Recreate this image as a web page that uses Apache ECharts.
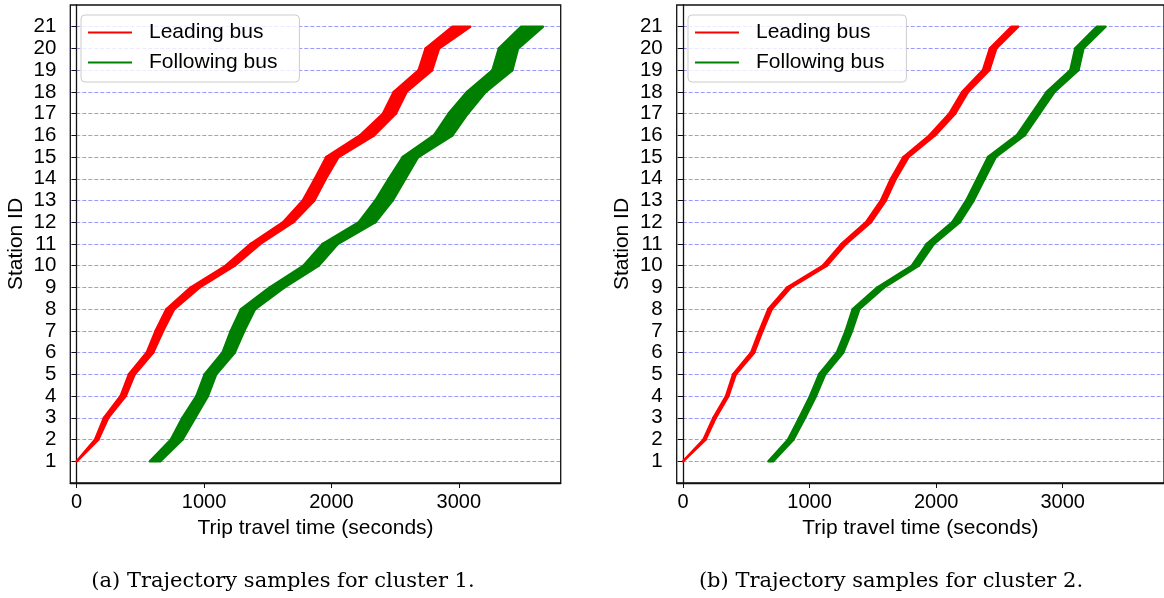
<!DOCTYPE html>
<html>
<head>
<meta charset="utf-8">
<script src="https://cdn.jsdelivr.net/npm/echarts@6/dist/echarts.min.js"></script>
<style>
html,body{margin:0;padding:0;background:#fff;}
#c{width:1164px;height:598px;}
</style>
</head>
<body>
<div id="c"></div>
<script>
// ---- data ----
const stations = [1,2,3,4,5,6,7,8,9,10,11,12,13,14,15,16,17,18,19,20,21];
const xTicks = [0,1000,2000,3000];
const yTicks = stations;

// Cluster 1 (left): earliest / latest sample arrival time at each station (s)
const c1LeadLo = [0,145,215,345,410,550,620,705,895,1170,1365,1620,1775,1870,1960,2225,2405,2490,2685,2740,2950];
const c1LeadHi = [0,170,248,385,455,600,678,765,965,1240,1440,1700,1865,1955,2055,2335,2505,2590,2790,2845,3090];
const c1FollLo = [575,740,830,940,1005,1145,1210,1290,1515,1780,1930,2215,2345,2450,2560,2805,2920,3065,3265,3315,3490];
const c1FollHi = [655,830,930,1030,1095,1240,1315,1400,1630,1900,2050,2345,2480,2580,2680,2950,3070,3210,3420,3465,3660];

// Cluster 2 (right)
const c2LeadLo = [0,162,240,340,396,538,604,674,822,1104,1252,1446,1564,1643,1741,1947,2104,2206,2370,2425,2596];
const c2LeadHi = [0,178,258,358,416,562,628,700,852,1136,1286,1484,1602,1681,1781,1991,2150,2252,2420,2475,2648];
const c2FollLo = [675,830,919,1004,1075,1215,1285,1341,1535,1808,1925,2128,2238,2324,2410,2637,2755,2873,3060,3099,3270];
const c2FollHi = [711,872,963,1050,1123,1265,1335,1393,1587,1862,1981,2186,2296,2382,2470,2699,2817,2935,3124,3163,3338];

const seriesNames = ['Leading bus','Following bus'];
const captions = ['(a) Trajectory samples for cluster 1.','(b) Trajectory samples for cluster 2.'];

// ---- build ----
const RED = '#ff0000', GREEN = '#008000';
const SANS = 'Liberation Sans, Arial, sans-serif';

function bandData(lo, hi){
  const d = [];
  for (let i = 0; i < stations.length - 1; i++) {
    d.push([stations[i], lo[i], hi[i], stations[i+1], lo[i+1], hi[i+1]]);
  }
  return d;
}
function bandSeries(name, idx, color, lo, hi){
  return {
    type: 'custom', name: name, xAxisIndex: idx, yAxisIndex: idx, clip: true,
    itemStyle: {color: color},
    encode: {x: [1,2,4,5], y: [0,3]},
    data: bandData(lo, hi),
    renderItem: function(params, api){
      const p1 = api.coord([api.value(1), api.value(0)]);
      const p2 = api.coord([api.value(4), api.value(3)]);
      const p3 = api.coord([api.value(5), api.value(3)]);
      const p4 = api.coord([api.value(2), api.value(0)]);
      return {type: 'polygon', shape: {points: [p1,p2,p3,p4]},
        style: {fill: color, stroke: color, lineWidth: 2.5, lineJoin: 'round'}};
    }
  };
}

const gridW = 490.4, gridH = 478;
const grids = [
  {left: 70.3, top: 5, width: gridW, height: gridH, show: true, borderColor: '#111', borderWidth: 1.3, backgroundColor: 'transparent'},
  {left: 676.7, top: 5, width: gridW, height: gridH, show: true, borderColor: '#111', borderWidth: 1.3, backgroundColor: 'transparent'}
];
function xAx(i){
  return {type: 'value', gridIndex: i, min: -50, max: 3800,
    name: 'Trip travel time (seconds)', nameLocation: 'middle', nameGap: 35,
    nameTextStyle: {fontFamily: SANS, fontSize: 21, color: '#000'},
    axisLine: {show: true, lineStyle: {color: '#111', width: 1.3}},
    axisTick: {show: true, customValues: xTicks, length: 5, lineStyle: {color: '#111', width: 1}},
    axisLabel: {customValues: xTicks, formatter: function(v){ return String(v); },
      fontFamily: SANS, fontSize: 20, color: '#000', margin: 9},
    splitLine: {show: false}};
}
function yAx(i){
  return {type: 'value', gridIndex: i, min: 0, max: 22,
    name: 'Station ID', nameLocation: 'middle', nameGap: 44,
    nameTextStyle: {fontFamily: SANS, fontSize: 21, color: '#000'},
    axisLine: {show: true, lineStyle: {color: '#111', width: 1.3}},
    axisTick: {show: true, customValues: yTicks, length: 5, lineStyle: {color: '#111', width: 1}},
    axisLabel: {customValues: yTicks, formatter: function(v){ return String(v); },
      fontFamily: SANS, fontSize: 20.5, color: '#000', margin: 14},
    splitLine: {show: true, lineStyle: {color: 'rgba(0,0,255,0.5)', width: 0.8, type: [4,2]}}};
}
function legend(left){
  return {orient: 'vertical', left: left, top: 15,
    data: [{name: seriesNames[0], icon: 'rect'}, {name: seriesNames[1], icon: 'rect'}],
    itemWidth: 44, itemHeight: 2, itemGap: 9,
    padding: [7, 22, 9, 7],
    backgroundColor: 'rgba(255,255,255,0.8)', borderColor: '#cccccc', borderWidth: 1, borderRadius: 4,
    selectedMode: false,
    textStyle: {fontFamily: SANS, fontSize: 21, color: '#000', lineHeight: 21, padding: [0,0,0,12]}};
}

const chart = echarts.init(document.getElementById('c'), null, {renderer: 'canvas'});
chart.setOption({
  animation: false,
  backgroundColor: '#fff',
  grid: grids,
  xAxis: [xAx(0), xAx(1)],
  yAxis: [yAx(0), yAx(1)],
  legend: [legend(81), legend(688)],
  series: [
    bandSeries(seriesNames[0], 0, RED, c1LeadLo, c1LeadHi),
    bandSeries(seriesNames[1], 0, GREEN, c1FollLo, c1FollHi),
    bandSeries(seriesNames[0], 1, RED, c2LeadLo, c2LeadHi),
    bandSeries(seriesNames[1], 1, GREEN, c2FollLo, c2FollHi)
  ],
  graphic: [
    {type: 'text', x: 283, y: 582, style: {text: captions[0], font: '21px "DejaVu Serif", serif', fill: '#000', textAlign: 'center', textVerticalAlign: 'middle'}},
    {type: 'text', x: 891, y: 582, style: {text: captions[1], font: '21px "DejaVu Serif", serif', fill: '#000', textAlign: 'center', textVerticalAlign: 'middle'}}
  ]
});
</script>
</body>
</html>
